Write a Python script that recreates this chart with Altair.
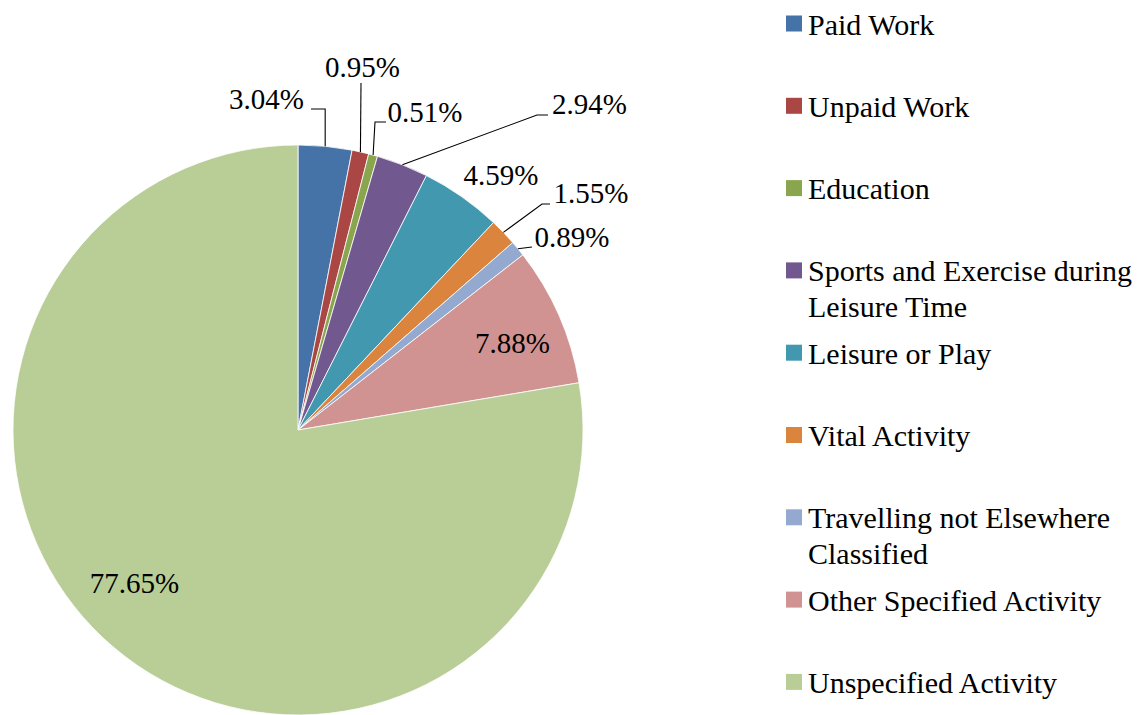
import math
import altair as alt
import pandas as pd

# ---------------- data ----------------
categories = [
    "Paid Work",
    "Unpaid Work",
    "Education",
    "Sports and Exercise during Leisure Time",
    "Leisure or Play",
    "Vital Activity",
    "Travelling not Elsewhere Classified",
    "Other Specified Activity",
    "Unspecified Activity",
]
shares = [3.04, 0.95, 0.51, 2.94, 4.59, 1.55, 0.89, 7.88, 77.65]
legend_text = [
    "Paid Work",
    "Unpaid Work",
    "Education",
    "Sports and Exercise during\nLeisure Time",
    "Leisure or Play",
    "Vital Activity",
    "Travelling not Elsewhere\nClassified",
    "Other Specified Activity",
    "Unspecified Activity",
]

# ---------------- style / layout ----------------
colors = ["#4572A7", "#AA4643", "#89A54E", "#71588F", "#4198AF",
          "#DB843D", "#93A9CF", "#D19392", "#B9CD96"]
FONT = "Liberation Serif, Times New Roman, serif"
FS_LABEL = 29
FS_LEGEND = 30
W, H = 1128, 707          # view size (page coords = view + 8)
X0, Y0 = 8, 8
CX, CY, R = 298, 430, 285  # pie centre / radius in page coords

# label text centre (page coords, baseline y)
label_pos = {
    "Paid Work": (266.5, 109),
    "Unpaid Work": (362.5, 77),
    "Education": (425, 122),
    "Sports and Exercise during Leisure Time": (589.5, 114),
    "Leisure or Play": (501, 185),
    "Vital Activity": (591, 203),
    "Travelling not Elsewhere Classified": (572, 247),
    "Other Specified Activity": (512.5, 353),
    "Unspecified Activity": (134.5, 593),
}
# leader line points after the slice anchor (page coords)
leader_pts = {
    "Paid Work": ["anchor_x", 109, (311, 109)],
    "Unpaid Work": [(361, 83)],
    "Education": [(375, 122), (386, 122)],
    "Sports and Exercise during Leisure Time": [(537, 115), (548, 115)],
    "Vital Activity": [(542, 204), (550, 204)],
    "Travelling not Elsewhere Classified": [(532, 247)],
}
LEG_SQ_X, LEG_TXT_X, LEG_TOP, LEG_STEP = 794, 808, 23.5, 82.3
LEG_TXT_DY = 11

# ---------------- tables ----------------
pie_df = pd.DataFrame({"category": categories, "share": shares,
                       "idx": list(range(len(categories)))})

total = sum(shares)
cum = 0.0
anchors = {}
for c, s in zip(categories, shares):
    mid = (cum + s / 2) / total * 2 * math.pi
    anchors[c] = (CX + R * math.sin(mid), CY - R * math.cos(mid))
    cum += s

lab_rows = []
for c, s in zip(categories, shares):
    x, y = label_pos[c]
    lab_rows.append({"x": x, "y": y, "label": f"{s:.2f}%"})
lab_df = pd.DataFrame(lab_rows)

line_rows = []
for c, pts in leader_pts.items():
    ax, ay = anchors[c]
    seq = [(ax, ay)]
    if pts and pts[0] == "anchor_x":
        seq.append((ax, pts[1]))
        pts = pts[2:]
    seq += list(pts)
    for k, (x, y) in enumerate(seq):
        line_rows.append({"seg": c, "k": k, "x": x, "y": y})
line_df = pd.DataFrame(line_rows)

leg_df = pd.DataFrame({
    "category": categories,
    "text": legend_text,
    "ys": [LEG_TOP + LEG_STEP * i for i in range(len(categories))],
})
leg_df["yt"] = leg_df["ys"] + LEG_TXT_DY
leg_df["xs"] = LEG_SQ_X
leg_df["xt"] = LEG_TXT_X

xs = alt.Scale(domain=[X0, X0 + W], nice=False, zero=False)
ys = alt.Scale(domain=[Y0, Y0 + H], reverse=True, nice=False, zero=False)
cscale = alt.Scale(domain=categories, range=colors)

pie = alt.Chart(pie_df).mark_arc(radius=R, stroke="white", strokeWidth=0.8).encode(
    theta=alt.Theta("share:Q", stack=True),
    color=alt.Color("category:N", scale=cscale, legend=None),
    order=alt.Order("idx:Q"),
    x=alt.value(CX - X0),
    y=alt.value(CY - Y0),
)

lines = alt.Chart(line_df).mark_line(color="black", strokeWidth=1.1).encode(
    x=alt.X("x:Q", scale=xs, axis=None),
    y=alt.Y("y:Q", scale=ys, axis=None),
    detail="seg:N",
    order="k:Q",
)

labels = alt.Chart(lab_df).mark_text(
    font=FONT, fontSize=FS_LABEL, align="center", baseline="alphabetic", color="black"
).encode(
    x=alt.X("x:Q", scale=xs, axis=None),
    y=alt.Y("y:Q", scale=ys, axis=None),
    text="label:N",
)

leg_sq = alt.Chart(leg_df).mark_square(size=256, opacity=1, filled=True).encode(
    x=alt.X("xs:Q", scale=xs, axis=None),
    y=alt.Y("ys:Q", scale=ys, axis=None),
    color=alt.Color("category:N", scale=cscale, legend=None),
)

leg_txt = alt.Chart(leg_df).mark_text(
    font=FONT, fontSize=FS_LEGEND, align="left", baseline="alphabetic",
    lineBreak="\n", lineHeight=35.7, color="black"
).encode(
    x=alt.X("xt:Q", scale=xs, axis=None),
    y=alt.Y("yt:Q", scale=ys, axis=None),
    text="text:N",
)

chart = alt.layer(pie, lines, labels, leg_sq, leg_txt).properties(
    width=W, height=H, padding=0, autosize=alt.AutoSizeParams(type="none")
).configure(background="white", view=alt.ViewConfig(stroke=None))

chart.save("out.html", embed_options={"renderer": "svg", "actions": False})
